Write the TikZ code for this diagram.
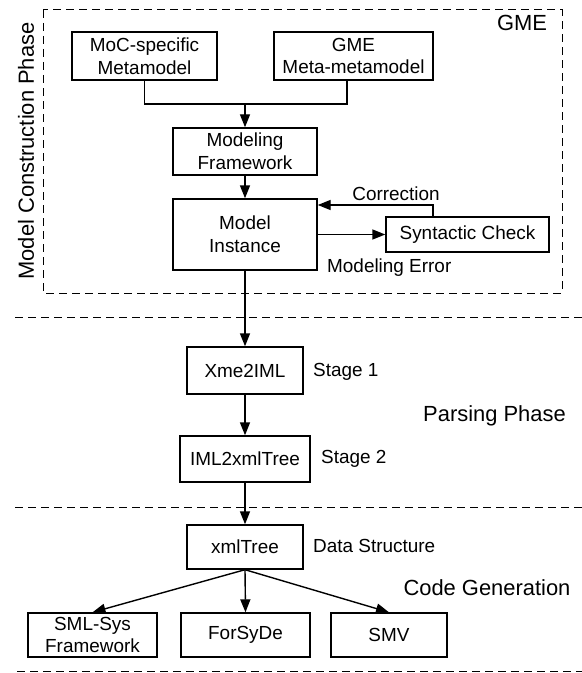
\documentclass[tikz,border=0pt]{standalone}
\usepackage{fontspec}
\setmainfont{Liberation Sans}
\usetikzlibrary{arrows.meta}

\begin{document}
\begin{tikzpicture}[x=1bp, y=-1bp,
  box/.style={draw, line width=1.4bp, inner sep=0pt, align=center,
              font=\fontsize{19}{23}\selectfont},
  note/.style={inner sep=0pt, font=\fontsize{19}{23}\selectfont},
  phase/.style={inner sep=0pt, font=\fontsize{22}{26}\selectfont},
  arr/.style={line width=1.4bp, -{Triangle[length=13bp,width=10bp]}},
  wire/.style={line width=1.4bp},
  sep/.style={line width=1bp, dash pattern=on 8bp off 5bp}
]
\useasboundingbox (0,0) rectangle (582,673);

% GME tool frame
\draw[sep] (43,10) rectangle (562,293);
\node[phase] (gmelabel) at (522,23) {GME};
\node[phase, rotate=90] (mcp) at (26,151) {Model Construction Phase};

% phase separators
\draw[sep] (15,317) -- (582,317);
\draw[sep] (15,507) -- (582,507);
\draw[sep] (17,671) -- (582,671);

% boxes
\node[box, minimum width=145bp, minimum height=48bp] (moc) at (144.5,56) {MoC-specific\\Metamodel};
\node[box, minimum width=159bp, minimum height=48bp] (gmemeta) at (353.5,56) {GME\\Meta-metamodel};
\node[box, minimum width=144bp, minimum height=47bp] (mf) at (245,151.5) {Modeling\\Framework};
\node[box, minimum width=144bp, minimum height=71bp] (mi) at (245,234.5) {Model\\Instance};
\node[box, minimum width=163bp, minimum height=35bp] (sc) at (467.5,234.5) {Syntactic Check};
\node[box, minimum width=116bp, minimum height=47bp] (xme) at (245,370.5) {Xme2IML};
\node[box, minimum width=130bp, minimum height=46bp] (iml) at (245,459) {IML2xmlTree};
\node[box, minimum width=116bp, minimum height=44bp] (xml) at (245,547) {xmlTree};
\node[box, minimum width=129bp, minimum height=44bp] (sml) at (92.5,635) {SML-Sys\\Framework};
\node[box, minimum width=129bp, minimum height=44bp] (forsyde) at (245.5,635) {ForSyDe};
\node[box, minimum width=116bp, minimum height=44bp] (smv) at (389,635) {SMV};

% labels
\node[note] (corr) at (396,194) {Correction};
\node[note, anchor=west] (moderr) at (327,268) {Modeling Error};
\node[note, anchor=west] (st1) at (313,372) {Stage 1};
\node[note, anchor=west] (st2) at (321,459) {Stage 2};
\node[note, anchor=west] (ds) at (313,546) {Data Structure};
\node[phase] (pp) at (494.5,416) {Parsing Phase};
\node[phase] (cg) at (487,588) {Code Generation};

% metamodels merge into the modeling framework
\coordinate (join) at (245,104);
\coordinate (joinr) at (347,104);
\draw[wire] (moc.south) |- (joinr) -- (joinr |- gmemeta.south);
\draw[arr] (join) -- (mf.north);
\draw[arr] (mf.south) -- (mi.north);

% checking loop
\draw[arr] (mi.east) -- (sc.west);
\coordinate (corner) at (433,205);
\draw[arr] (corner |- sc.north) -- (corner) -- (corner -| mi.east);

% parsing chain
\draw[arr] (mi.south) -- (xme.north);
\draw[arr] (xme.south) -- (iml.north);
\draw[arr] (iml.south) -- (xml.north);

% code generation targets
\draw[arr] (xml.south) -- (sml.north);
\draw[arr] (xml.south) -- (forsyde.north);
\draw[arr] (xml.south) -- (smv.north);
\end{tikzpicture}
\end{document}
